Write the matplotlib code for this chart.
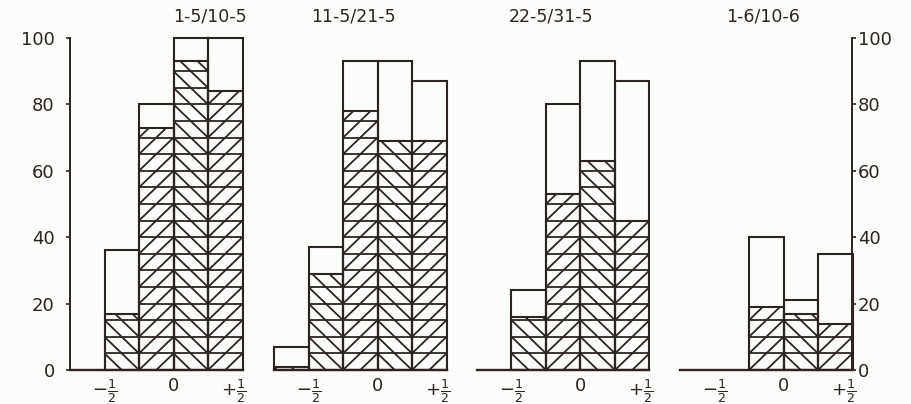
import matplotlib
matplotlib.use('Agg')
import matplotlib.pyplot as plt
import matplotlib.transforms as mtransforms
from matplotlib.collections import LineCollection

# Data: bin left edges (bin width 1/4) and per-period totals / hatched part
bin_left = [-0.75, -0.5, -0.25, 0.0, 0.25]
bin_width = 0.25
periods = ['1-5/10-5', '11-5/21-5', '22-5/31-5', '1-6/10-6']
totals = [
    [0, 36, 80, 100, 100],
    [7, 37, 93, 93, 87],
    [0, 24, 80, 93, 87],
    [0, 0, 40, 21, 35],
]
hatched = [
    [0, 17, 73, 93, 84],
    [1, 29, 78, 69, 69],
    [0, 16, 53, 63, 45],
    [0, 0, 19, 17, 14],
]
# hatch direction per bin: -1 = '\', +1 = '/'
hatch_dir = [1, -1, 1, -1, 1]
row_step = 5
xtick_pos = [-0.5, 0, 0.5]
xtick_lab = [r'$-\frac{1}{2}$', '0', r'$+\frac{1}{2}$']
ytick_pos = [0, 20, 40, 60, 80, 100]

ink = '#2b2422'
plt.rcParams['font.family'] = 'DejaVu Sans'

fig = plt.figure(figsize=(9.11, 4.04), dpi=100)
fig.patch.set_facecolor('#fcfcfa')

W, H = 911, 404
lefts_px = [70, 274, 477, 680]
width_px = 172.5
bottom_px, top_px = 370, 38
title_x = [0.81, 0.46, 0.43, 0.48]


def draw_hatch(ax, x0, h, d):
    """Rows every 5 units with two diagonals per row, clipped to the bar."""
    rect = ax.bar(x0, h, width=bin_width, align='edge', facecolor='none',
                  edgecolor=ink, linewidth=1.5, zorder=3)[0]
    mid = x0 + bin_width / 2
    x1 = x0 + bin_width
    segs = []
    y = 0
    while y < h:
        ya, yb = y, y + row_step
        if y > 0:
            segs.append([(x0, y), (x1, y)])
        if d > 0:
            segs.append([(x0, ya), (mid, yb)])
            segs.append([(mid, ya), (x1, yb)])
        else:
            segs.append([(x0, yb), (mid, ya)])
            segs.append([(mid, yb), (x1, ya)])
        y += row_step
    lc = LineCollection(segs, colors=ink, linewidths=1.3, zorder=2)
    ax.add_collection(lc)
    lc.set_clip_path(rect)


for i, name in enumerate(periods):
    ax = fig.add_axes([lefts_px[i] / W, (H - bottom_px) / H,
                       width_px / W, (bottom_px - top_px) / H])
    ax.set_facecolor('none')
    ax.set_xlim(-0.75, 0.5)
    ax.set_ylim(0, 100)

    for j, x0 in enumerate(bin_left):
        t = totals[i][j]
        h = hatched[i][j]
        if t > 0:
            ax.bar(x0, t, width=bin_width, align='edge', facecolor='none',
                   edgecolor=ink, linewidth=1.5, zorder=3, clip_on=False)
        if h > 0:
            draw_hatch(ax, x0, h, hatch_dir[j])

    for s in ax.spines.values():
        s.set_visible(False)
    ax.spines['bottom'].set_visible(True)
    ax.spines['bottom'].set_color(ink)
    ax.spines['bottom'].set_linewidth(1.7)

    ax.set_xticks(xtick_pos)
    ax.set_xticklabels(xtick_lab, fontsize=13, color=ink)
    ax.tick_params(axis='x', length=0, pad=5)
    # the +1/2 label sits a little inside the last bar edge, as in the original
    lab = ax.get_xticklabels()[-1]
    lab.set_transform(lab.get_transform() +
                      mtransforms.ScaledTranslation(-9 / 100, 0, fig.dpi_scale_trans))

    if i == 0:
        ax.spines['left'].set_visible(True)
        ax.spines['left'].set_color(ink)
        ax.spines['left'].set_linewidth(1.4)
        ax.set_yticks(ytick_pos)
        ax.tick_params(axis='y', length=3, width=1.2, color=ink,
                       labelsize=13, labelcolor=ink, pad=8)
    elif i == len(periods) - 1:
        ax.spines['right'].set_visible(True)
        ax.spines['right'].set_color(ink)
        ax.spines['right'].set_linewidth(1.4)
        ax.yaxis.tick_right()
        ax.set_yticks(ytick_pos)
        ax.tick_params(axis='y', length=3, width=1.2, color=ink,
                       labelsize=13, labelcolor=ink, pad=1)
    else:
        ax.set_yticks([])

    ax.text(title_x[i], 1.065, name, transform=ax.transAxes, ha='center',
            va='center', fontsize=12.5, color=ink)

fig.savefig('out.png', dpi=100, facecolor=fig.get_facecolor())
